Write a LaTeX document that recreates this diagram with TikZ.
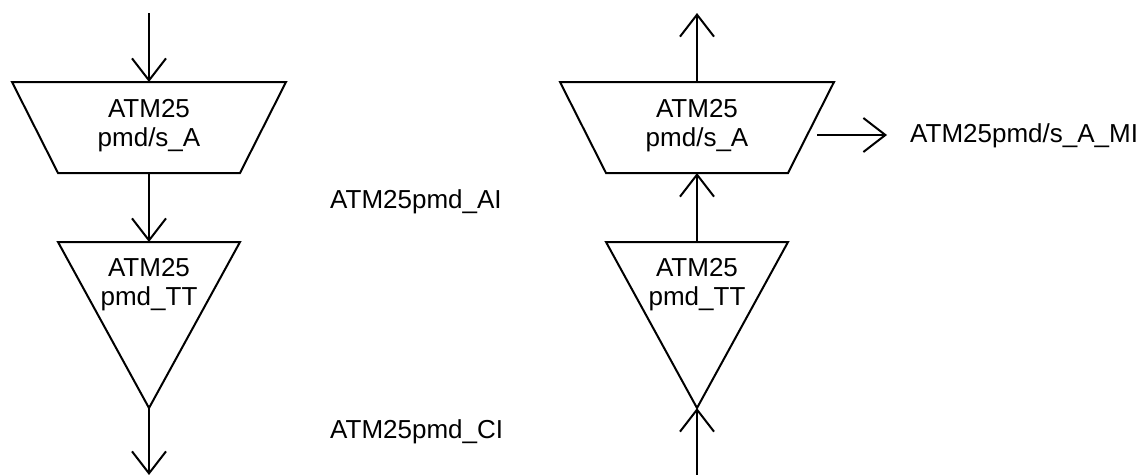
\documentclass[tikz,border=0pt]{standalone}
\usepackage{fontspec}
\setmainfont{Liberation Sans}
\usetikzlibrary{arrows.meta}

\begin{document}
\begin{tikzpicture}[x=1pt,y=-1pt,
  flow/.style={line width=2pt,-{Straight Barb[length=22pt,width=34pt,line width=2pt]}},
  shp/.style={line width=2pt,line join=miter},
  txt/.style={font=\fontsize{26}{29}\selectfont,inner sep=0pt,align=center},
  tag/.style={font=\fontsize{26}{29}\selectfont,inner sep=0pt,anchor=base west}]
  \useasboundingbox (0,0) rectangle (1147,474);
  % the two columns have the same shapes
  \foreach \x/\s in {149/l,697/r} {
    \draw[shp] (\x-137,82) -- (\x+137,82) -- (\x+91,173) -- (\x-91,173) -- cycle;
    \draw[shp] (\x-91,242) -- (\x+91,242) -- (\x,408) -- cycle;
    \coordinate (sA\s Top) at (\x,82);
    \coordinate (sA\s Bot) at (\x,173);
    \coordinate (tt\s Top) at (\x,242);
    \coordinate (tt\s Apex) at (\x,408);
    \node[txt] (sA\s) at (\x,126) {ATM25\\pmd/s\_A};
    \node[txt] (tt\s) at (\x,285) {ATM25\\pmd\_TT};
  }
  % left column, flow downwards
  \coordinate (inL) at (149,13);
  \coordinate (outL) at (149,475);
  \draw[flow] (inL) -- (sAlTop);
  \draw[flow] (sAlBot) -- (ttlTop);
  \draw[flow] (ttlApex) -- (outL);
  % right column, flow upwards
  \coordinate (outR) at (697,13);
  \coordinate (inR) at (697,475);
  \draw[flow] (sArTop) -- (outR);
  \draw[flow] (ttrTop) -- (sArBot);
  \draw[flow] (inR) -- (ttrApex);
  % management output
  \coordinate (miStart) at (817,135);
  \coordinate (miEnd) at (887,135);
  \draw[flow] (miStart) -- (miEnd);
  \node[tag] (miLabel) at (910,142) {ATM25pmd/s\_A\_MI};
  \node[tag] (aiLabel) at (330,208) {ATM25pmd\_AI};
  \node[tag] (ciLabel) at (330,438) {ATM25pmd\_CI};
\end{tikzpicture}
\end{document}
